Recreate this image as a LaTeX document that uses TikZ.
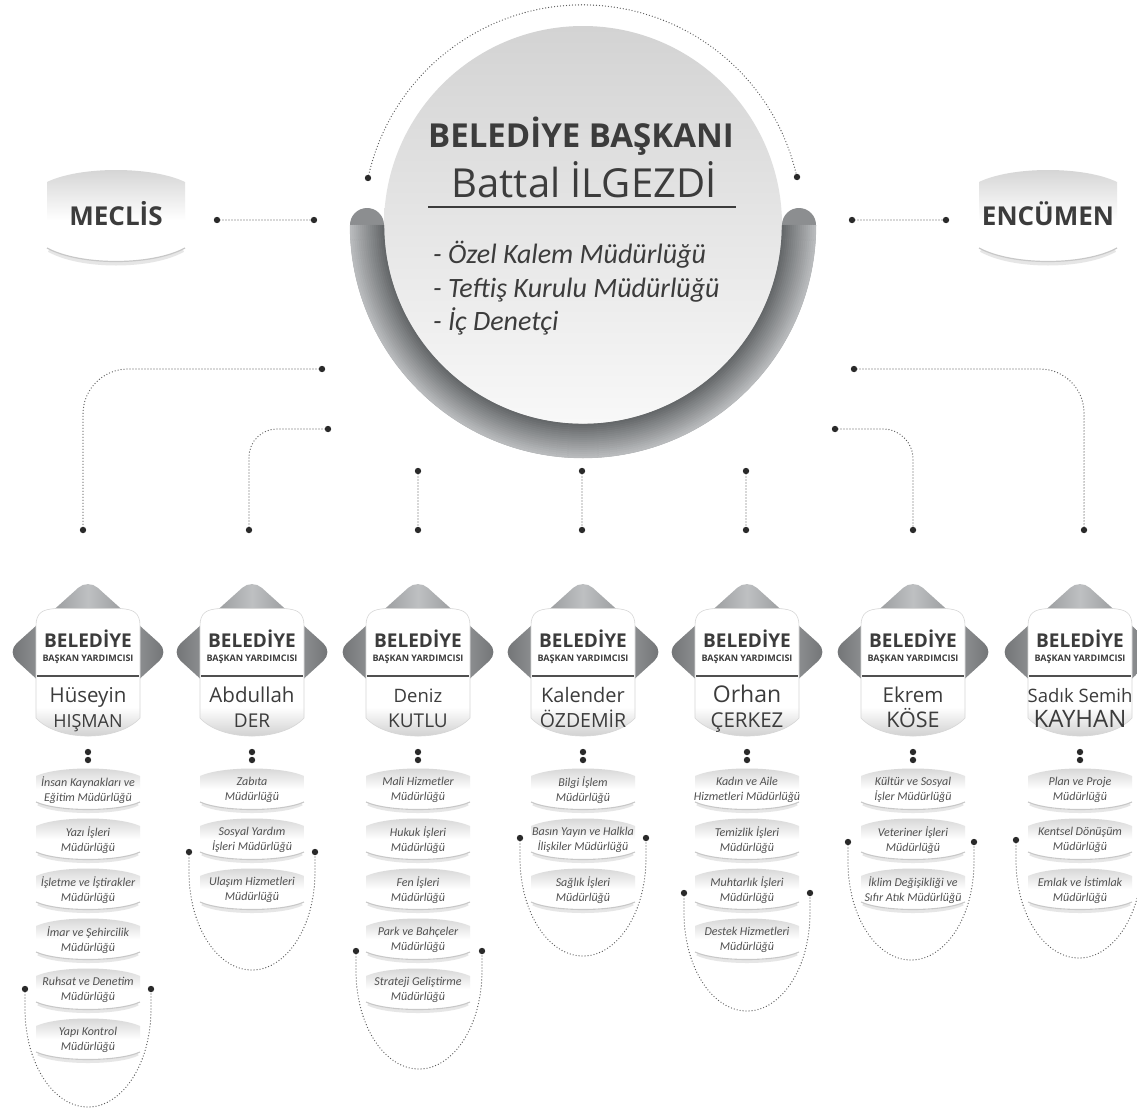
\documentclass[tikz,border=0pt]{standalone}
\usepackage{fontspec}
\setmainfont{Open Sans}
\newfontfamily\deptfont{Carlito}
\usetikzlibrary{calc}

\definecolor{txt}{HTML}{3C3C3C}
\definecolor{depttxt}{HTML}{505050}
\definecolor{dotc}{HTML}{5A5A5A}
\definecolor{dotdark}{HTML}{2A2A2A}
\definecolor{dkg}{HTML}{6E7072}
\definecolor{ltg}{HTML}{BEC0C2}
\definecolor{ringin}{HTML}{65686A}
\definecolor{ringout}{HTML}{B8BABC}
\definecolor{ringmid}{HTML}{8C8E90}
\definecolor{shadowg}{HTML}{C8C8C8}
\definecolor{shadowl}{HTML}{E6E6E6}
\definecolor{boxtop}{HTML}{D2D2D2}
\definecolor{circtop}{HTML}{D3D3D3}
\definecolor{circbot}{HTML}{F8F8F8}
\definecolor{panelline}{HTML}{D6D6D6}
\definecolor{rulec}{HTML}{505050}

\pgfdeclareverticalshading{panelsh}{100bp}{color(0bp)=(shadowg); color(25bp)=(shadowg); color(38bp)=(white); color(100bp)=(white)}
\pgfdeclareverticalshading{deptsh}{100bp}{color(0bp)=(white); color(25bp)=(white); color(50bp)=(white); color(75bp)=(boxtop); color(100bp)=(boxtop)}
\pgfdeclareverticalshading{bigboxsh}{100bp}{color(0bp)=(white); color(25bp)=(white); color(48bp)=(white); color(75bp)=(boxtop); color(100bp)=(boxtop)}

\tikzset{
  dotline/.style={draw=dotc, line width=1.3pt, line cap=round, dash pattern=on 0pt off 3pt},
  hd/.style={text=txt, inner sep=0pt},
  dept/.style={text=depttxt, inner sep=0pt, align=center, font=\deptfont\itshape\fontsize{12}{15}\selectfont},
  mlist/.style={text=txt, inner sep=0pt, anchor=base west, font=\deptfont\itshape\fontsize{28}{33}\selectfont},
}

\newcommand\bigdot[1]{\fill[dotdark] (#1) circle[radius=3.2];}

% #1 id, #2 x, #3 first name, #4 size, #5 surname, #6 size
\newcommand\deputybox[6]{%
  \shade[left color=dkg, right color=dkg, middle color=ltg, rounded corners=13pt]
    ({#2-81},652) -- (#2,579) -- ({#2+81},652) -- (#2,726) -- cycle;
  \shade[shading=panelsh, draw=panelline, line width=0.6pt]
    ({#2-52},718) -- ({#2-52},626) .. controls ({#2-52},613) and ({#2-46},609) .. ({#2-31},608.5)
    -- ({#2+31},608.5) .. controls ({#2+46},609) and ({#2+52},613) .. ({#2+52},626)
    -- ({#2+52},718) .. controls ({#2+30},742) and ({#2-30},742) .. cycle;
  \coordinate (#1rl) at ({#2-51},676);
  \coordinate (#1rr) at ({#2+51},676);
  \draw[line width=1.6pt, rulec] (#1rl) -- (#1rr);
  \node[hd, anchor=base, font=\bfseries\fontsize{19}{20}\selectfont] (#1t) at (#2,647) {BELEDİYE};
  \node[hd, anchor=base, font=\bfseries\fontsize{9}{10}\selectfont] (#1s) at (#2,661) {BAŞKAN YARDIMCISI};
  \node[hd, anchor=base, font=\fontsize{#4}{#4}\selectfont] (#1n) at (#2,702) {#3};
  \node[hd, anchor=base, font=\fontsize{#6}{#6}\selectfont] (#1m) at (#2,727) {#5};
  \coordinate (#1da) at (#2,752);
  \coordinate (#1db) at (#2,760);
  \bigdot{#1da}\bigdot{#1db}
}

% #1 id, #2 x, #3 y, #4 text
\newcommand\deptbox[4]{%
  \draw[shadowl, line width=3pt] ({#2-50},{#3+15}) .. controls ({#2-30},{#3+25}) and ({#2+30},{#3+25}) .. ({#2+50},{#3+15});
  \shade[shading=deptsh]
    ({#2-52},{#3-13}) .. controls ({#2-30},{#3-23}) and ({#2+30},{#3-23}) .. ({#2+52},{#3-13})
    -- ({#2+52},{#3+13}) .. controls ({#2+30},{#3+23}) and ({#2-30},{#3+23}) .. ({#2-52},{#3+13}) -- cycle;
  \draw[shadowg, line width=1.1pt] ({#2-52},{#3+13}) .. controls ({#2-30},{#3+23}) and ({#2+30},{#3+23}) .. ({#2+52},{#3+13});
  \node[dept] (#1) at (#2,{#3+1}) {#4};
}

% #1 id, #2 x, #3 y of dots
\newcommand\deptloop[3]{%
  \coordinate (#1l) at ({#2-63},#3);
  \coordinate (#1r) at ({#2+63},#3);
  \draw[dotline] (#1l) -- ({#2-63},{#3+20})
    .. controls ({#2-63},{#3+74.1}) and ({#2-34.8},{#3+118}) .. ({#2},{#3+118})
    .. controls ({#2+34.8},{#3+118}) and ({#2+63},{#3+74.1}) .. ({#2+63},{#3+20}) -- (#1r);
  \bigdot{#1l}\bigdot{#1r}
}

% #1 id, #2 x centre, #3 text
\newcommand\sidebox[3]{%
  \draw[shadowl, line width=4pt] ({#2-67},250) .. controls ({#2-35},268) and ({#2+35},268) .. ({#2+67},250);
  \shade[shading=bigboxsh]
    ({#2-69},182) .. controls ({#2-36},166) and ({#2+36},166) .. ({#2+69},182)
    -- ({#2+69},248) .. controls ({#2+36},266) and ({#2-36},266) .. ({#2-69},248) -- cycle;
  \draw[shadowg, line width=1.2pt] ({#2-69},248) .. controls ({#2-36},266) and ({#2+36},266) .. ({#2+69},248);
  \node[hd, anchor=base, font=\bfseries\fontsize{26}{28}\selectfont] (#1) at (#2,225) {#3};
}

\begin{document}
\begin{tikzpicture}[x=1pt, y=-1pt]
\useasboundingbox (0,0) rectangle (1137,1111);
\fill[white] (0,0) rectangle (1137,1111);

% ---------- mayor ----------
\coordinate (arcL) at (368,178);
\coordinate (arcR) at (797,177);
\draw[dotline] (arcL) arc[start angle=192.2, end angle=347.5, radius=219.5];
\bigdot{arcL}\bigdot{arcR}

\shade[top color=circtop, bottom color=circbot] (583,225) circle[radius=199];

\draw[line width=34pt, line cap=round, ringmid] (367,225) arc[start angle=180, end angle=0, radius=216];
\foreach \i in {0,...,16} {
  \pgfmathsetmacro\rr{200+2*\i}
  \pgfmathsetmacro\pp{100-6.25*\i}
  \draw[line width=2.4pt, color=ringin!\pp!ringout] ({583-\rr},225) arc[start angle=180, end angle=0, radius=\rr];
}

\node[hd, anchor=base, font=\bfseries\fontsize{33}{36}\selectfont] (mayorT) at (581,147) {BELEDİYE BAŞKANI};
\node[hd, anchor=base, font=\fontsize{40}{44}\selectfont] (mayorN) at (584,197) {Battal İLGEZDİ};
\coordinate (ulL) at (428,207);
\coordinate (ulR) at (736,207);
\draw[line width=1.5pt, txt] (ulL) -- (ulR);
\node[mlist] (m1) at (433,263) {- Özel Kalem Müdürlüğü};
\node[mlist] (m2) at (433,297) {- Teftiş Kurulu Müdürlüğü};
\node[mlist] (m3) at (433,330) {- İç Denetçi};

% ---------- meclis / encumen ----------
\sidebox{meclis}{116}{MECLİS}
\sidebox{encumen}{1048}{ENCÜMEN}
\coordinate (mcA) at (217,220); \coordinate (mcB) at (314,220);
\coordinate (ecA) at (852,220); \coordinate (ecB) at (946,220);
\draw[dotline] (mcA) -- (mcB);
\draw[dotline] (ecA) -- (ecB);
\bigdot{mcA}\bigdot{mcB}\bigdot{ecA}\bigdot{ecB}

% ---------- connectors to deputies ----------
\coordinate (c1a) at (322,369); \coordinate (c1b) at (83,530);
\coordinate (c2a) at (328,429); \coordinate (c2b) at (249,530);
\coordinate (c3a) at (418,471); \coordinate (c3b) at (418,530);
\coordinate (c4a) at (582,471); \coordinate (c4b) at (582,530);
\coordinate (c5a) at (746,471); \coordinate (c5b) at (746,530);
\coordinate (c6a) at (835,429); \coordinate (c6b) at (913,530);
\coordinate (c7a) at (854,369); \coordinate (c7b) at (1084,530);
\draw[dotline, rounded corners=45pt] (c1a) -| (c1b);
\draw[dotline, rounded corners=28pt] (c2a) -| (c2b);
\draw[dotline] (c3a) -- (c3b);
\draw[dotline] (c4a) -- (c4b);
\draw[dotline] (c5a) -- (c5b);
\draw[dotline, rounded corners=30pt] (c6a) -| (c6b);
\draw[dotline, rounded corners=44pt] (c7a) -| (c7b);
\foreach \p in {c1a,c1b,c2a,c2b,c3a,c3b,c4a,c4b,c5a,c5b,c6a,c6b,c7a,c7b} {\bigdot{\p}}

% ---------- loops ----------
\deptloop{L1}{88}{989}
\deptloop{L2}{252}{852}
\deptloop{L3}{419}{951}
\deptloop{L4}{583}{838}
\deptloop{L5}{747}{893}
\deptloop{L6}{911}{842}
\deptloop{L7}{1079}{840}

% ---------- deputies ----------
\deputybox{dA}{88}{Hüseyin}{20.5}{HIŞMAN}{18}
\deputybox{dB}{252}{Abdullah}{20.5}{DER}{19}
\deputybox{dC}{418}{Deniz}{18.5}{KUTLU}{19}
\deputybox{dD}{583}{Kalender}{20}{ÖZDEMİR}{19.5}
\deputybox{dE}{747}{Orhan}{23}{ÇERKEZ}{20.5}
\deputybox{dF}{913}{Ekrem}{20.5}{KÖSE}{21.5}
\deputybox{dG}{1080}{Sadık Semih}{18.5}{KAYHAN}{24}

% ---------- departments ----------
\deptbox{a1}{88}{789}{İnsan Kaynakları ve\\Eğitim Müdürlüğü}
\deptbox{a2}{88}{839}{Yazı İşleri\\Müdürlüğü}
\deptbox{a3}{88}{889}{İşletme ve İştirakler\\Müdürlüğü}
\deptbox{a4}{88}{939}{İmar ve Şehircilik\\Müdürlüğü}
\deptbox{a5}{88}{989}{Ruhsat ve Denetim\\Müdürlüğü}
\deptbox{a6}{88}{1039}{Yapı Kontrol\\Müdürlüğü}

\deptbox{b1}{252}{789}{Zabıta\\Müdürlüğü}
\deptbox{b2}{252}{839}{Sosyal Yardım\\İşleri Müdürlüğü}
\deptbox{b3}{252}{889}{Ulaşım Hizmetleri\\Müdürlüğü}

\deptbox{c1}{418}{789}{Mali Hizmetler\\Müdürlüğü}
\deptbox{c2}{418}{839}{Hukuk İşleri\\Müdürlüğü}
\deptbox{c3}{418}{889}{Fen İşleri\\Müdürlüğü}
\deptbox{c4}{418}{939}{Park ve Bahçeler\\Müdürlüğü}
\deptbox{c5}{418}{989}{Strateji Geliştirme\\Müdürlüğü}

\deptbox{e1}{583}{789}{Bilgi İşlem\\Müdürlüğü}
\deptbox{e2}{583}{839}{Basın Yayın ve Halkla\\İlişkiler Müdürlüğü}
\deptbox{e3}{583}{889}{Sağlık İşleri\\Müdürlüğü}

\deptbox{f1}{747}{789}{Kadın ve Aile\\Hizmetleri Müdürlüğü}
\deptbox{f2}{747}{839}{Temizlik İşleri\\Müdürlüğü}
\deptbox{f3}{747}{889}{Muhtarlık İşleri\\Müdürlüğü}
\deptbox{f4}{747}{939}{Destek Hizmetleri\\Müdürlüğü}

\deptbox{g1}{913}{789}{Kültür ve Sosyal\\İşler Müdürlüğü}
\deptbox{g2}{913}{839}{Veteriner İşleri\\Müdürlüğü}
\deptbox{g3}{913}{889}{İklim Değişikliği ve\\Sıfır Atık Müdürlüğü}

\deptbox{h1}{1080}{789}{Plan ve Proje\\Müdürlüğü}
\deptbox{h2}{1080}{839}{Kentsel Dönüşüm\\Müdürlüğü}
\deptbox{h3}{1080}{889}{Emlak ve İstimlak\\Müdürlüğü}

\end{tikzpicture}
\end{document}
